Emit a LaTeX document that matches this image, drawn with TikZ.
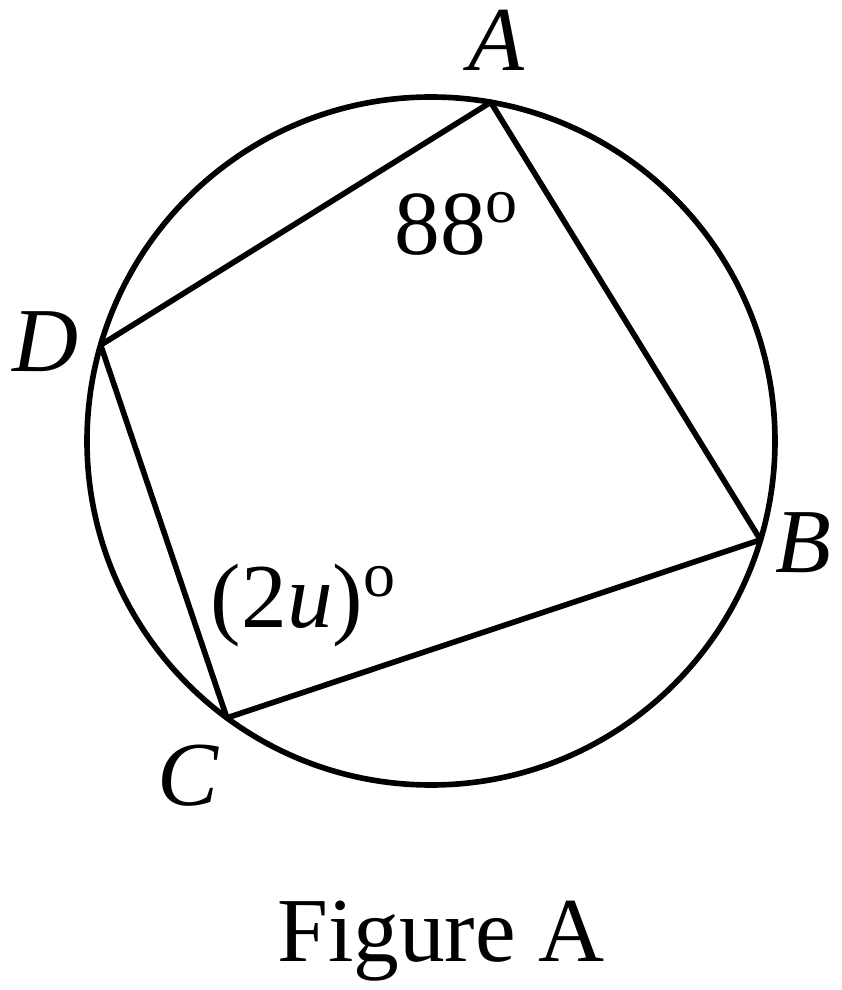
\documentclass[tikz,border=0pt]{standalone}
\usepackage{fontspec}
\setmainfont{Liberation Serif}
\begin{document}
\begin{tikzpicture}[x=0.01cm,y=0.01cm]
            \tikzstyle{every path}=[line width=1.6pt]
            \tikzstyle{lbl}=[inner sep=0pt,font=\fontsize{26}{30}\selectfont]
            \useasboundingbox (0,0) rectangle (842,990);
            \draw (431,549) coordinate (O) circle (344);
            \path (O) ++(80:344) coordinate (A);
            \path (O) ++(-16.7:344) coordinate (B);
            \path (O) ++(233.6:344) coordinate (C);
            \path (O) ++(163.8:344) coordinate (D);
            \draw[line join=round] (A) -- (B) -- (C) -- (D) -- cycle;
            \draw (497,950) node[lbl] (lA) {\textit{A}};
            \draw (803,447) node[lbl] (lB) {\textit{B}};
            \draw (188,214) node[lbl] (lC) {\textit{C}};
            \draw (46,648) node[lbl] (lD) {\textit{D}};
            \draw (457,766) node[lbl] (angA) {88\textsuperscript{o}};
            \draw (304,384) node[lbl] (angC) {(2\textit{u})\textsuperscript{o}};
            \draw (441,28) node[lbl,anchor=base] (cap) {Figure A};
\end{tikzpicture}
\end{document}
